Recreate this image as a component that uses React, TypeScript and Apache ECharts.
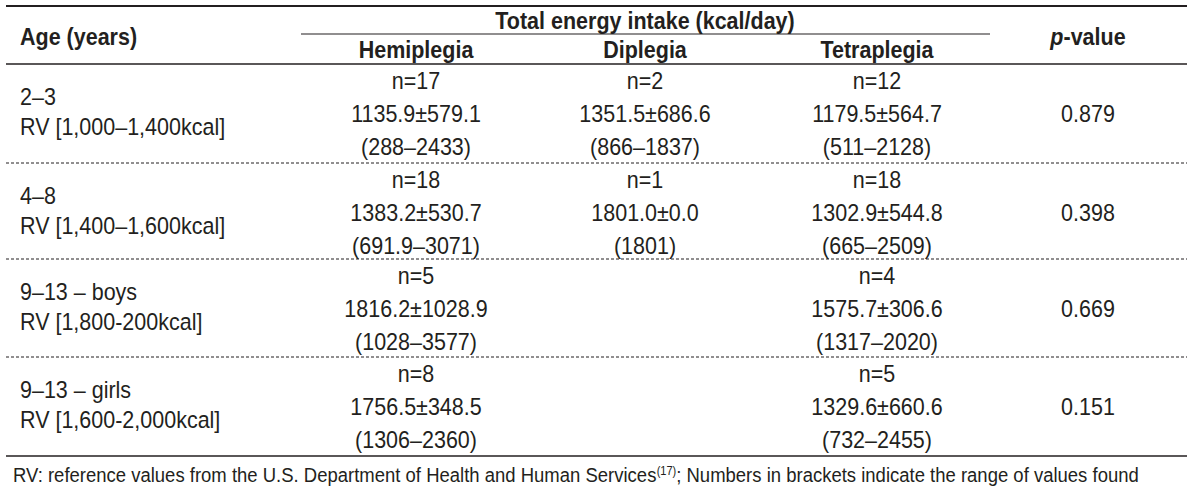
import React, { useEffect, useRef } from "react";
import * as echarts from "echarts";

// ---- Data ----
const ageGroups = ["2–3", "4–8", "9–13 – boys", "9–13 – girls"];
const rvLabels = [
  "RV [1,000–1,400kcal]",
  "RV [1,400–1,600kcal]",
  "RV [1,800-200kcal]",
  "RV [1,600-2,000kcal]",
];
const groupNames = ["Hemiplegia", "Diplegia", "Tetraplegia"];

const hemiN = [17, 18, 5, 8];
const hemiMean = [1135.9, 1383.2, 1816.2, 1756.5];
const hemiSD = [579.1, 530.7, 1028.9, 348.5];
const hemiRange = ["288–2433", "691.9–3071", "1028–3577", "1306–2360"];

const diN: (number | null)[] = [2, 1, null, null];
const diMean: (number | null)[] = [1351.5, 1801.0, null, null];
const diSD: (number | null)[] = [686.6, 0.0, null, null];
const diRange: (string | null)[] = ["866–1837", "1801", null, null];

const tetraN = [12, 18, 4, 5];
const tetraMean = [1179.5, 1302.9, 1575.7, 1329.6];
const tetraSD = [564.7, 544.8, 306.6, 660.6];
const tetraRange = ["511–2128", "665–2509", "1317–2020", "732–2455"];

const pValues = ["0.879", "0.398", "0.669", "0.151"];

const headerAge = "Age (years)";
const headerTotal = "Total energy intake (kcal/day)";
const footnoteA = "RV: reference values from the U.S. Department of Health and Human Services";
const footnoteRef = "(17)";
const footnoteB = "; Numbers in brackets indicate the range of values found";

export default function App() {
  const ref = useRef<HTMLDivElement>(null);
  useEffect(() => {
    if (!ref.current) return;
    const chart = echarts.init(ref.current, null, { renderer: "svg" });
    const FONT = "'Liberation Sans', Arial, Helvetica, sans-serif";
    const COLOR = "#231f20";
    const FS = 21.5;
    const SY = 1.1;
    const L = 6;
    const R = 1187;
    const colX = [416, 645, 877];
    const pX = 1088;
    const rowTops = [64, 163, 259, 357];
    const bottomY = 456;

    const els: any[] = [];
    const txt = (x: number, y: number, text: string, opts: any = {}) => {
      els.push({
        type: "text",
        x,
        y,
        scaleY: SY,
        style: {
          text,
          fill: COLOR,
          font: `${opts.bold ? "bold " : ""}${opts.fs || FS}px ${FONT}`,
          align: opts.align || "center",
          verticalAlign: "middle",
        },
      });
    };
    const hline = (y: number, x1: number, x2: number, w: number, dash?: number[]) => {
      els.push({
        type: "line",
        shape: { x1, y1: y, x2, y2: y },
        style: { stroke: COLOR, lineWidth: w, ...(dash ? { lineDash: dash } : {}) },
      });
    };

    // Header lines
    hline(6, L, R, 2);
    hline(34, 301, 990, 1.2);
    hline(64, L, R, 1.5);
    // Header texts
    txt(20, 37, headerAge, { bold: true, align: "left" });
    txt(645, 21, headerTotal, { bold: true });
    groupNames.forEach((g, i) => txt(colX[i], 50, g, { bold: true }));
    els.push({
      type: "text",
      x: pX,
      y: 37,
      scaleY: SY,
      style: {
        text: "{i|p}{b|-value}",
        fill: COLOR,
        align: "center",
        verticalAlign: "middle",
        rich: {
          i: { font: `italic bold ${FS}px ${FONT}`, fill: COLOR },
          b: { font: `bold ${FS}px ${FONT}`, fill: COLOR },
        },
      },
    });

    const cols = [
      { n: hemiN, m: hemiMean, s: hemiSD, r: hemiRange },
      { n: diN, m: diMean, s: diSD, r: diRange },
      { n: tetraN, m: tetraMean, s: tetraSD, r: tetraRange },
    ];

    rowTops.forEach((top, ri) => {
      txt(20, top + 33, ageGroups[ri], { align: "left" });
      txt(20, top + 63, rvLabels[ri], { align: "left" });
      cols.forEach((c, ci) => {
        const n = c.n[ri];
        if (n === null || n === undefined) return;
        txt(colX[ci], top + 17, `n=${n}`);
        txt(colX[ci], top + 50, `${(c.m[ri] as number).toFixed(1)}±${(c.s[ri] as number).toFixed(1)}`);
        txt(colX[ci], top + 83, `(${c.r[ri]})`);
      });
      txt(pX, top + 50, pValues[ri]);
      if (ri > 0) hline(top, L, R, 1, [3, 2]);
    });

    hline(bottomY, L, R, 1.5);

    // Footnote
    els.push({
      type: "text",
      x: 13,
      y: 475,
      scaleY: SY,
      style: {
        text: `{a|${footnoteA}}{s|${footnoteRef}}{a|${footnoteB}}`,
        fill: COLOR,
        align: "left",
        verticalAlign: "middle",
        rich: {
          a: { font: `18.5px ${FONT}`, fill: COLOR },
          s: { font: `11px ${FONT}`, fill: COLOR, verticalAlign: "top", padding: [0, 0, 8, 0] },
        },
      },
    });

    chart.setOption({
      animation: false,
      backgroundColor: "#ffffff",
      graphic: { elements: els },
    });
    return () => chart.dispose();
  }, []);
  return (
    <div
      ref={ref}
      style={{ position: "absolute", left: 0, top: 0, width: 1200, height: 494 }}
    />
  );
}
